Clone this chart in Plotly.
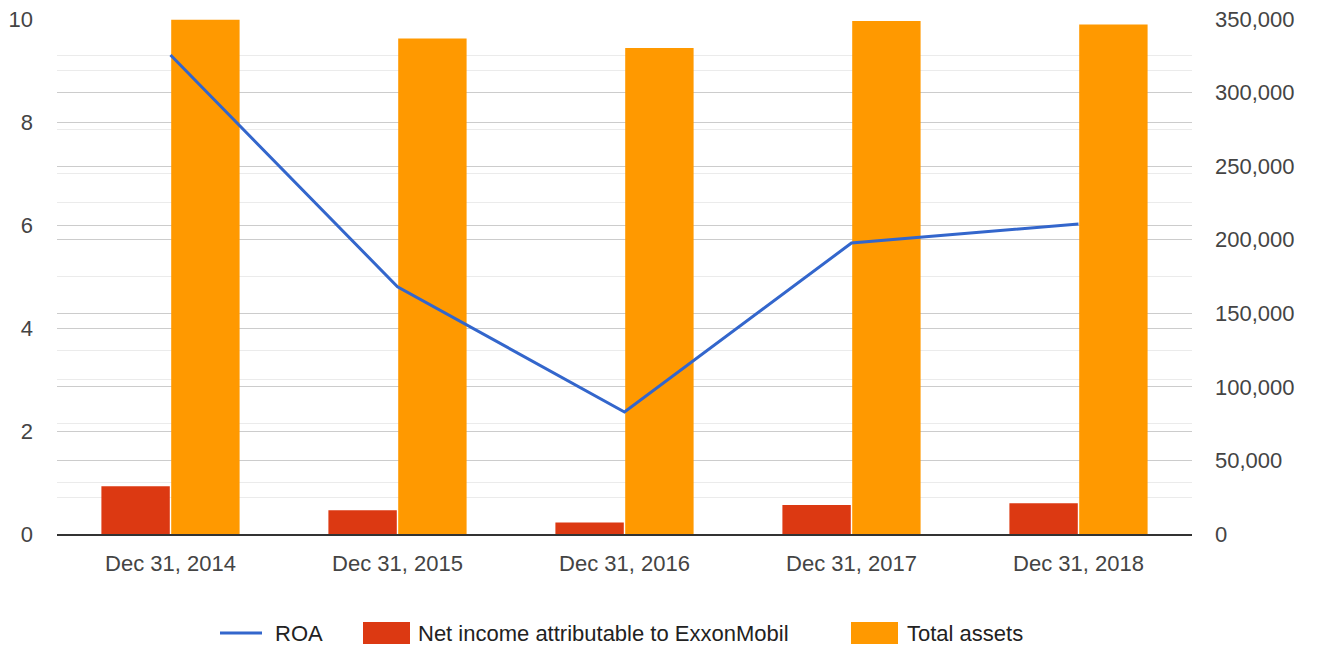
import plotly.graph_objects as go

# ExxonMobil: return on assets vs. net income and total assets (USD millions)
periods = ["Dec 31, 2014", "Dec 31, 2015", "Dec 31, 2016", "Dec 31, 2017", "Dec 31, 2018"]
roa = [9.30, 4.80, 2.37, 5.65, 6.02]
net_income = [32520, 16150, 7840, 19710, 20840]
total_assets = [349493, 336758, 330314, 348691, 346196]

roa_ticks = [0, 2, 4, 6, 8, 10]
usd_ticks = [0, 50000, 100000, 150000, 200000, 250000, 300000, 350000]

BLUE = "#3366cc"
RED = "#dc3912"
ORANGE = "#ff9900"
FONT = "Liberation Sans, Arial, sans-serif"

W, H = 1318, 648
M = dict(l=57, r=126, t=19, b=114)
PW = W - M["l"] - M["r"]
PH = H - M["t"] - M["b"]


def px_x(x):
    """Pixel column -> paper x."""
    return (x - M["l"]) / PW


def px_y(y):
    """Pixel row -> paper y."""
    return (H - M["b"] - y) / PH


fig = go.Figure()

# bars sit on the primary (right-hand) axis
fig.add_trace(go.Bar(x=periods, y=net_income, name="Net income attributable to ExxonMobil",
                     marker=dict(color=RED, line=dict(width=0)), yaxis="y"))
fig.add_trace(go.Bar(x=periods, y=total_assets, name="Total assets",
                     marker=dict(color=ORANGE, line=dict(width=0)), yaxis="y"))
# ROA line on the overlaying (left-hand) axis so it draws above the bars
fig.add_trace(go.Scatter(x=periods, y=roa, name="ROA", mode="lines",
                         line=dict(color=BLUE, width=3), yaxis="y2"))

# legend row under the chart: wide swatches like the classic chart style
legend_y = 633
shapes = [
    dict(type="line", xref="paper", yref="paper", x0=px_x(220), x1=px_x(262),
         y0=px_y(legend_y), y1=px_y(legend_y), line=dict(color=BLUE, width=3)),
    dict(type="rect", xref="paper", yref="paper", x0=px_x(363), x1=px_x(410),
         y0=px_y(legend_y - 11), y1=px_y(legend_y + 11), fillcolor=RED, line=dict(width=0)),
    dict(type="rect", xref="paper", yref="paper", x0=px_x(851), x1=px_x(898),
         y0=px_y(legend_y - 11), y1=px_y(legend_y + 11), fillcolor=ORANGE, line=dict(width=0)),
]
annotations = [
    dict(text=txt, x=px_x(x), y=px_y(legend_y), xref="paper", yref="paper",
         xanchor="left", yanchor="middle", showarrow=False,
         font=dict(family=FONT, size=22, color="#222"))
    for txt, x in [("ROA", 273), ("Net income attributable to ExxonMobil", 416), ("Total assets", 905)]
]

fig.update_layout(
    width=W, height=H,
    margin=M,
    paper_bgcolor="white", plot_bgcolor="white",
    barmode="group", bargap=0.385, bargroupgap=0.02,
    font=dict(family=FONT, size=22, color="#444"),
    showlegend=False,
    shapes=shapes, annotations=annotations,
    xaxis=dict(type="category", showgrid=False, showline=True, linecolor="#333", linewidth=1.5,
               ticks="", tickfont=dict(size=22, color="#444"), ticklabelstandoff=9,
               automargin=False),
    yaxis=dict(side="right", range=[0, 350000], tickvals=usd_ticks,
               tickformat=",d", showgrid=True, gridcolor="#cccccc", gridwidth=1,
               minor=dict(dtick=25000, showgrid=True, gridcolor="#ebebeb", gridwidth=1),
               zeroline=False, ticks="", tickfont=dict(size=22, color="#444"),
               ticklabelstandoff=22, automargin=False),
    yaxis2=dict(side="left", overlaying="y", range=[0, 10], tickvals=roa_ticks,
                showgrid=True, gridcolor="#cccccc", gridwidth=1,
                minor=dict(dtick=1, showgrid=True, gridcolor="#ebebeb", gridwidth=1),
                zeroline=False, ticks="", tickfont=dict(size=22, color="#444"),
                ticklabelstandoff=23, automargin=False),
)

fig.write_html("out.html")
